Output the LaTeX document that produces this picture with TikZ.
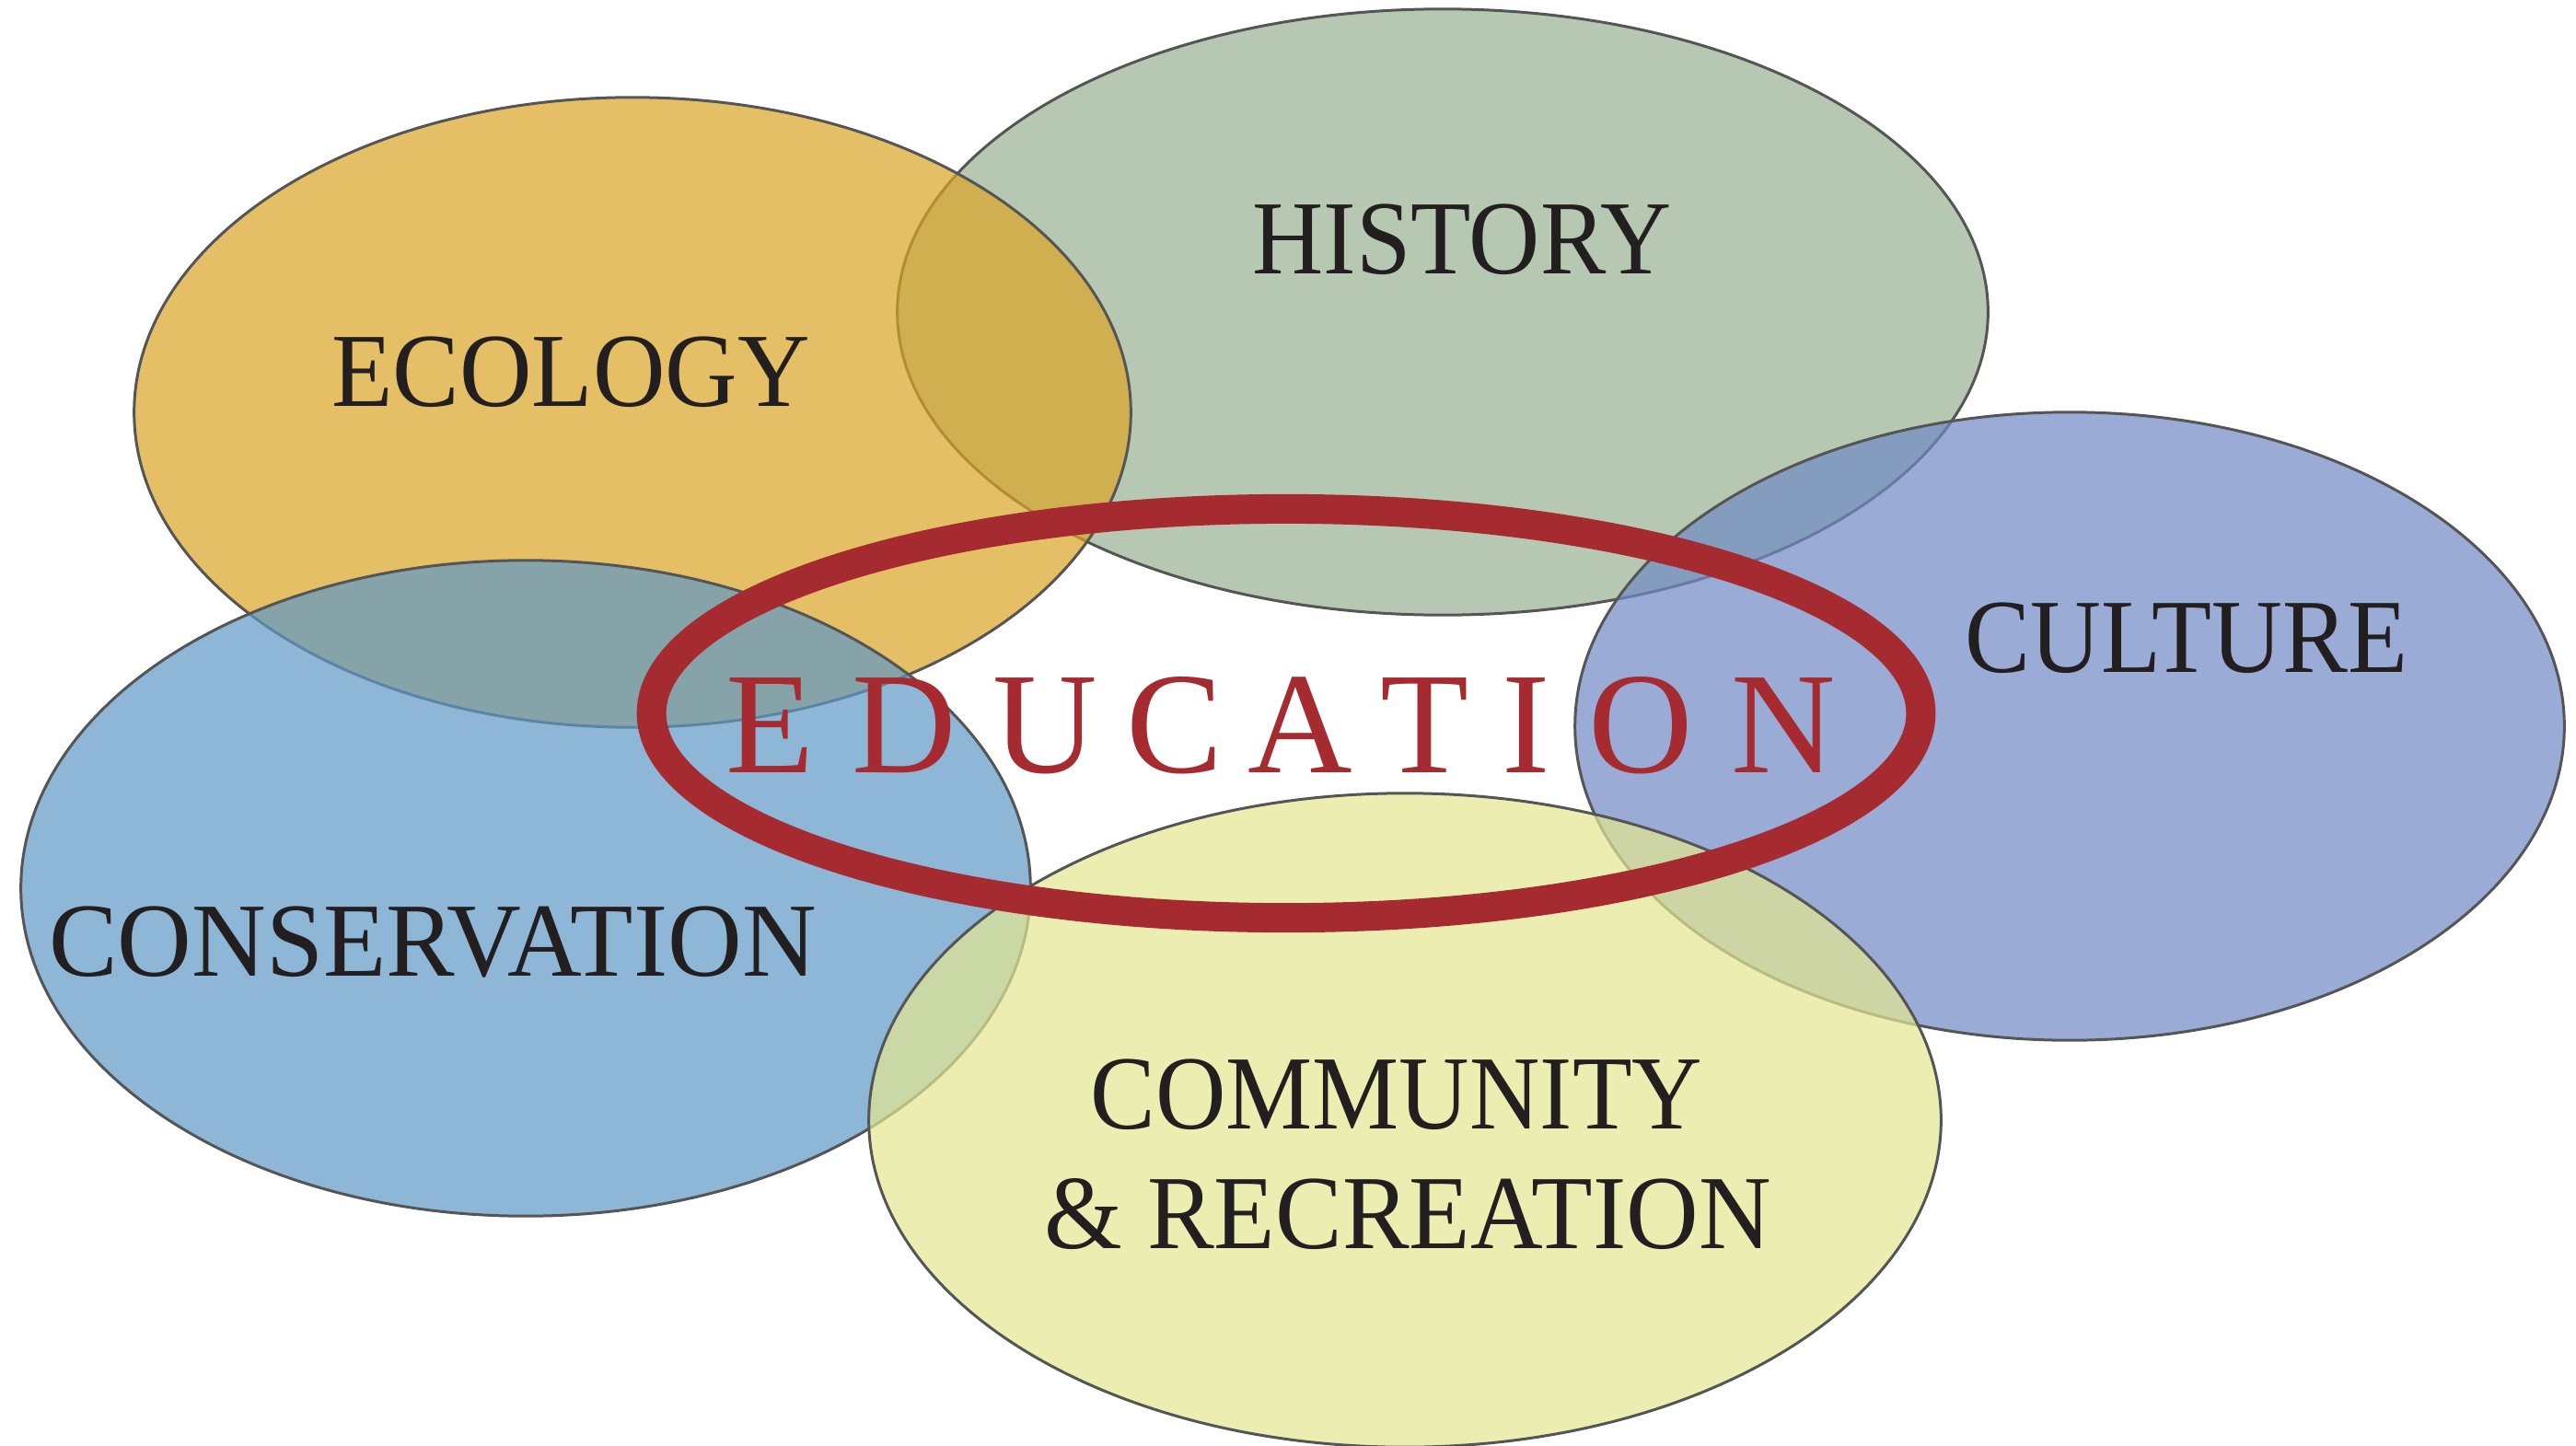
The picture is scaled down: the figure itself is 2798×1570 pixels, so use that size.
\documentclass[tikz,border=0pt]{standalone}
\usepackage{fontspec}
\setmainfont{Liberation Serif}
\usepackage{graphicx}
\usetikzlibrary{shapes.geometric}
\definecolor{bordergray}{HTML}{555555}
\definecolor{textdark}{HTML}{231F20}
\definecolor{ringred}{HTML}{A62B30}
\definecolor{ecocol}{RGB}{218,165,38}
\definecolor{histcol}{RGB}{152,178,145}
\definecolor{cultcol}{RGB}{112,138,196}
\definecolor{conscol}{RGB}{95,152,198}
\definecolor{commcol}{RGB}{228,231,145}
\begin{document}
\begin{tikzpicture}[x=0.01cm,y=-0.01cm,
  bub/.style={ellipse, draw=bordergray, line width=0.85pt, fill opacity=0.7, inner sep=0pt},
  lbl/.style={anchor=base, inner sep=0pt, text=textdark, font=\fontsize{32.5}{34}\selectfont},
  edu/.style={anchor=base, inner sep=0pt, text=ringred, font=\fontsize{44.7}{46}\selectfont}]
\useasboundingbox (0,0) rectangle (2798,1570);
\fill[white] (0,0) rectangle (2798,1570);
\node[bub, fill=histcol, minimum width=11.84cm, minimum height=6.58cm] (history) at (1567,339) {};
\node[bub, fill=ecocol, minimum width=10.82cm, minimum height=6.84cm] (ecology) at (687,448) {};
\node[bub, fill=cultcol, minimum width=10.74cm, minimum height=6.82cm] (culture) at (2248,789) {};
\node[bub, fill=conscol, minimum width=10.96cm, minimum height=7.12cm] (conservation) at (571,965) {};
\node[bub, fill=commcol, minimum width=11.64cm, minimum height=7.10cm] (community) at (1526,1217) {};
\node[ellipse, draw=ringred, line width=0.32cm, minimum width=13.78cm, minimum height=4.44cm, inner sep=0pt] (ring) at (1397,775) {};
\node[lbl] (tecology) at (620,441) {\resizebox{5.19cm}{\height}{ECOLOGY}};
\node[lbl] (thistory) at (1588,298) {\resizebox{4.55cm}{\height}{HISTORY}};
\node[lbl] (tculture) at (2375,730) {\resizebox{4.80cm}{\height}{CULTURE}};
\node[lbl] (tconservation) at (470,1060) {\resizebox{8.33cm}{\height}{CONSERVATION}};
\node[lbl] (tcommunity) at (1517,1226) {\resizebox{6.64cm}{\height}{COMMUNITY}};
\node[lbl] (trecreation) at (1529,1356) {\resizebox{7.89cm}{\height}{\& RECREATION}};
\foreach \ch/\xx [count=\i] in {E/836,D/982,U/1135,C/1276,A/1412,T/1547,I/1658,O/1782,N/1937}
  \node[edu] (edu\i) at (\xx,839) {\ch};
\end{tikzpicture}
\end{document}
